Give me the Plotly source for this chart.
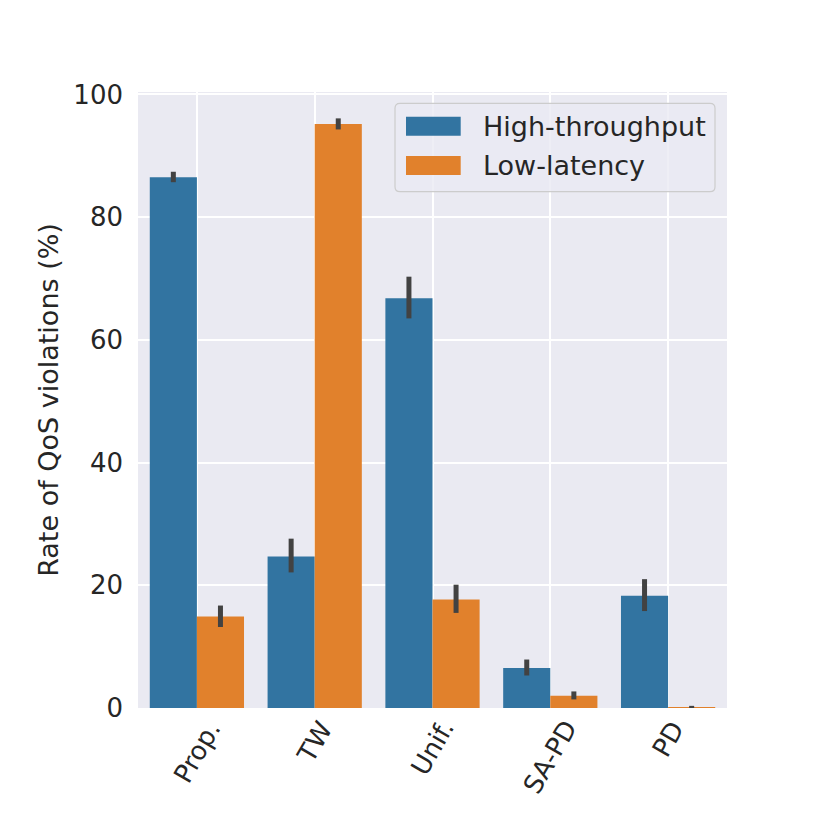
import plotly.graph_objects as go

# categories and series
methods = ["Prop.", "TW", "Unif.", "SA-PD", "PD"]

ht_rate = [86.5, 24.7, 66.8, 6.5, 18.3]
ht_low = [85.7, 22.1, 63.5, 5.3, 15.8]
ht_high = [87.4, 27.6, 70.3, 7.9, 21.0]

ll_rate = [14.9, 95.2, 17.7, 2.0, 0.15]
ll_low = [13.2, 94.3, 15.5, 1.4, 0.0]
ll_high = [16.7, 96.1, 20.1, 2.7, 0.35]

series_names = ["High-throughput", "Low-latency"]
colors = ["#3274A1", "#E1812C"]

FONT = "DejaVu Sans"
FS = 26
FS_BIG = 27
TXT = "#262626"

W, H = 830, 830
# plot area as seen in the reference (page pixels)
PL, PT, PW, PH = 138, 92, 589, 616
OFF = 8  # page body margin
L, T = PL - OFF, PT - OFF
R, B = W - L - PW, H - T - PH


def px_x(px):
    return (px - PL) / PW


def px_y(py):
    return (PT + PH - py) / PH


fig = go.Figure()
for name, col, vals, lo, hi in [
    (series_names[0], colors[0], ht_rate, ht_low, ht_high),
    (series_names[1], colors[1], ll_rate, ll_low, ll_high),
]:
    fig.add_trace(go.Bar(
        x=methods, y=vals, name=name,
        marker=dict(color=col, line=dict(width=0)),
        error_y=dict(
            type="data", symmetric=False,
            array=[h - v for h, v in zip(hi, vals)],
            arrayminus=[v - l for v, l in zip(vals, lo)],
            color="#424242", thickness=5, width=0,
        ),
        showlegend=False,
    ))

# tick labels along x, rotated like the original (centred under the ticks)
annotations = []
for m in methods:
    annotations.append(dict(
        x=m, xref="x", y=0, yref="paper", yshift=-5,
        text=m, textangle=-60, showarrow=False,
        xanchor="center", yanchor="top",
        font=dict(family=FONT, size=FS, color=TXT),
    ))

# legend box drawn by hand (wide patches, rounded frame)
x0, x1 = px_x(395), px_x(715)
y0, y1 = px_y(191.7), px_y(103.3)
rx, ry = 5 / PW, 5 / PH
box_path = (
    f"M {x0+rx},{y0} L {x1-rx},{y0} Q {x1},{y0} {x1},{y0+ry} "
    f"L {x1},{y1-ry} Q {x1},{y1} {x1-rx},{y1} "
    f"L {x0+rx},{y1} Q {x0},{y1} {x0},{y1-ry} "
    f"L {x0},{y0+ry} Q {x0},{y0} {x0+rx},{y0} Z"
)
shapes = [dict(
    type="path", xref="paper", yref="paper", path=box_path,
    fillcolor="rgba(234,234,242,0.8)", line=dict(color="#CCCCCC", width=1.2),
    layer="above",
)]
for i, (name, col) in enumerate(zip(series_names, colors)):
    top = 116.7 + i * 39.3
    shapes.append(dict(
        type="rect", xref="paper", yref="paper",
        x0=px_x(406), x1=px_x(460.7), y0=px_y(top + 19), y1=px_y(top),
        fillcolor=col, line=dict(width=0), layer="above",
    ))
    annotations.append(dict(
        x=px_x(481), y=px_y(top + 9.5), xref="paper", yref="paper",
        text=name, showarrow=False, xanchor="left", yanchor="middle",
        font=dict(family=FONT, size=FS_BIG, color=TXT),
    ))

fig.update_layout(
    template="none",
    width=W, height=H,
    margin=dict(l=L, r=R, t=T, b=B, pad=0),
    paper_bgcolor="white",
    plot_bgcolor="#EAEAF2",
    barmode="group",
    bargap=0.2,
    bargroupgap=0,
    font=dict(family=FONT, size=FS, color=TXT),
    shapes=shapes,
    annotations=annotations,
    xaxis=dict(
        type="category", range=[-0.5, 4.5],
        showgrid=True, gridcolor="white", gridwidth=1.6,
        showticklabels=False, ticks="", showline=False, zeroline=False,
    ),
    yaxis=dict(
        range=[0, 100.4], tickvals=[0, 20, 40, 60, 80, 100],
        showgrid=True, gridcolor="white", gridwidth=1.6,
        ticks="", showline=False, zeroline=False,
        ticklabelstandoff=14,
        tickfont=dict(family=FONT, size=FS, color=TXT),
        title=dict(text="Rate of QoS violations (%)", standoff=6,
                   font=dict(family=FONT, size=FS_BIG, color=TXT)),
    ),
)

fig.write_html("out.html")
